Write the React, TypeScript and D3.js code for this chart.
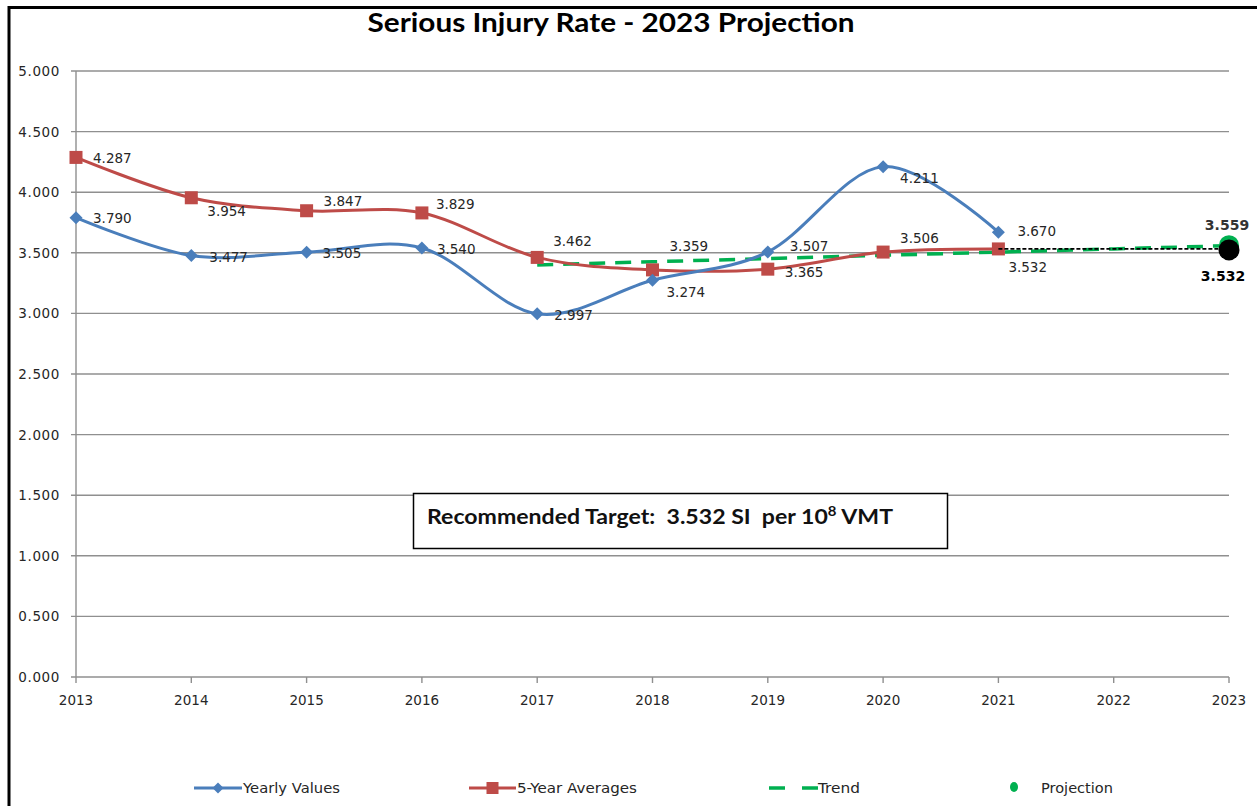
import React from "react";
import * as d3 from "d3";

const years = [2013, 2014, 2015, 2016, 2017, 2018, 2019, 2020, 2021];
const axisYears = [2013, 2014, 2015, 2016, 2017, 2018, 2019, 2020, 2021, 2022, 2023];
const yearlyValues = [3.79, 3.477, 3.505, 3.54, 2.997, 3.274, 3.507, 4.211, 3.67];
const fiveYearAverages = [4.287, 3.954, 3.847, 3.829, 3.462, 3.359, 3.365, 3.506, 3.532];
const trendYears = [2017, 2018, 2019, 2020, 2021, 2022, 2023];
const trendValues = [3.4, 3.426, 3.453, 3.479, 3.506, 3.532, 3.559];
const targetYears = [2021, 2023];
const targetValues = [3.532, 3.532];
const projectionYear = 2023;
const projectionValue = 3.559;
const targetValue = 3.532;
const yTicks = [0, 0.5, 1, 1.5, 2, 2.5, 3, 3.5, 4, 4.5, 5];

const legendItems = ["Yearly Values", "5-Year Averages", "Trend", "Projection"];

// label placement offsets (px) relative to each point
const blueLabelOffsets: [number, number][] = [
  [17, 0], [18, 1], [16, 1], [15, 1], [17, 1], [14, 12], [22, -6], [17, 11], [19, -1],
];
const redLabelOffsets: [number, number][] = [
  [17, 1], [16, 13], [17, -10], [14, -9], [16, -16], [17, -24], [17, 3], [17, -14], [10, 18],
];

const BLUE = "#4a7ebb";
const RED = "#be4b48";
const GREEN = "#00b050";
const GRID = "#8f8f8f";
const TXT = "#262626";

export default function App() {
  const W = 1257;
  const H = 806;
  const x = d3.scaleLinear().domain([2013, 2023]).range([76, 1229]);
  const y = d3.scaleLinear().domain([0, 5]).range([677, 71]);

  const smooth = d3
    .line<[number, number]>()
    .x((d) => x(d[0]))
    .y((d) => y(d[1]))
    .curve(d3.curveCardinal.tension(0));
  const straight = d3
    .line<[number, number]>()
    .x((d) => x(d[0]))
    .y((d) => y(d[1]));

  const bluePts = years.map((yr, i) => [yr, yearlyValues[i]] as [number, number]);
  const redPts = years.map((yr, i) => [yr, fiveYearAverages[i]] as [number, number]);
  const trendPts = trendYears.map((yr, i) => [yr, trendValues[i]] as [number, number]);
  const targetPts = targetYears.map((yr, i) => [yr, targetValues[i]] as [number, number]);

  const fmt = d3.format(".3f");
  const labelFont = { fontFamily: "DejaVu Sans", fontSize: 13.5, fill: TXT } as const;

  const diamond = (cx: number, cy: number, r: number) =>
    `M${cx},${cy - r}L${cx + r},${cy}L${cx},${cy + r}L${cx - r},${cy}Z`;

  return (
    <svg
      width={W}
      height={H}
      style={{ position: "absolute", left: 0, top: 0, background: "#fff" }}
    >
      <rect x={0} y={0} width={W} height={H} fill="#fff" />
      {/* frame */}
      <rect x={9} y={7.5} width={W + 20} height={H + 20} fill="none" stroke="#000" strokeWidth={3} />

      {/* title */}
      <text
        x={611}
        y={32}
        textAnchor="middle"
        fontFamily="Lato"
        fontWeight={700}
        fontSize={26}
        textLength={487}
        lengthAdjust="spacingAndGlyphs"
        fill="#000"
      >
        Serious Injury Rate - 2023 Projection
      </text>

      {/* gridlines */}
      {yTicks.map((t) => (
        <g key={t}>
          <line x1={71} x2={1229} y1={y(t)} y2={y(t)} stroke={GRID} strokeWidth={1.4} />
          <text
            x={60}
            y={y(t)}
            textAnchor="end"
            dominantBaseline="central"
            fontFamily="DejaVu Sans"
            fontSize={13.5}
            letterSpacing={0.6}
            fill={TXT}
          >
            {fmt(t)}
          </text>
        </g>
      ))}
      {/* y axis */}
      <line x1={76} x2={76} y1={71} y2={677} stroke={GRID} strokeWidth={1.4} />
      {/* x ticks */}
      {axisYears.map((yr) => (
        <g key={yr}>
          <line x1={x(yr)} x2={x(yr)} y1={677} y2={683} stroke={GRID} strokeWidth={1.4} />
          <text
            x={x(yr)}
            y={700}
            textAnchor="middle"
            dominantBaseline="central"
            fontFamily="DejaVu Sans"
            fontSize={13.5}
            fill={TXT}
          >
            {yr}
          </text>
        </g>
      ))}

      {/* trend */}
      <path d={straight(trendPts) || ""} fill="none" stroke={GREEN} strokeWidth={3.5} strokeDasharray="16,10" />

      {/* 5-year averages */}
      <path d={smooth(redPts) || ""} fill="none" stroke={RED} strokeWidth={3} />
      {redPts.map((p, i) => (
        <rect key={i} x={x(p[0]) - 6.5} y={y(p[1]) - 6.5} width={13} height={13} fill={RED} />
      ))}

      {/* yearly values */}
      <path d={smooth(bluePts) || ""} fill="none" stroke={BLUE} strokeWidth={3} />
      {bluePts.map((p, i) => (
        <path key={i} d={diamond(x(p[0]), y(p[1]), 6.5)} fill={BLUE} />
      ))}

      {/* target dotted */}
      <path d={straight(targetPts) || ""} fill="none" stroke="#000" strokeWidth={1.6} strokeDasharray="4,2" />

      {/* projection dot & target dot */}
      <circle cx={x(projectionYear)} cy={y(projectionValue) - 0.5} r={10} fill={GREEN} />
      <circle cx={x(projectionYear)} cy={y(targetValue) + 1} r={10.5} fill="#000" />

      {/* data labels */}
      {bluePts.map((p, i) => (
        <text
          key={"b" + i}
          x={x(p[0]) + blueLabelOffsets[i][0]}
          y={y(p[1]) + blueLabelOffsets[i][1]}
          dominantBaseline="central"
          {...labelFont}
        >
          {fmt(p[1])}
        </text>
      ))}
      {redPts.map((p, i) => (
        <text
          key={"r" + i}
          x={x(p[0]) + redLabelOffsets[i][0]}
          y={y(p[1]) + redLabelOffsets[i][1]}
          dominantBaseline="central"
          {...labelFont}
        >
          {fmt(p[1])}
        </text>
      ))}
      <text
        x={x(projectionYear) - 2}
        y={y(projectionValue) - 21}
        textAnchor="middle"
        dominantBaseline="central"
        fontFamily="DejaVu Sans"
        fontSize={14}
        fontWeight={700}
        fill="#333"
      >
        {fmt(projectionValue)}
      </text>
      <text
        x={x(projectionYear) - 6}
        y={y(targetValue) + 27}
        textAnchor="middle"
        dominantBaseline="central"
        fontFamily="DejaVu Sans"
        fontSize={14}
        fontWeight={700}
        fill="#000"
      >
        {fmt(targetValue)}
      </text>

      {/* text box */}
      <rect x={413.5} y={493.5} width={534} height={55} fill="#fff" stroke="#000" strokeWidth={1.5} />
      <text
        x={427}
        y={524}
        fontFamily="Lato"
        fontWeight={700}
        fontSize={20}
        fill="#111"
        textLength={466}
        lengthAdjust="spacingAndGlyphs"
      >
        <tspan>{`Recommended Target:\u00a0 ${fmt(targetValue)} SI\u00a0 per 10`}</tspan>
        <tspan fontSize={13} dy={-8}>8</tspan>
        <tspan dy={8}>{" VMT"}</tspan>
      </text>

      {/* legend */}
      <g>
        <line x1={194} x2={242} y1={788} y2={788} stroke={BLUE} strokeWidth={3} />
        <path d={diamond(218, 788, 5.5)} fill={BLUE} />
        <text x={243} y={788} dominantBaseline="central" fontFamily="DejaVu Sans" fontSize={14}
          textLength={97} lengthAdjust="spacingAndGlyphs" fill={TXT}>{legendItems[0]}</text>

        <line x1={469} x2={516} y1={788} y2={788} stroke={RED} strokeWidth={3} />
        <rect x={486.5} y={782} width={12} height={12} fill={RED} />
        <text x={517} y={788} dominantBaseline="central" fontFamily="DejaVu Sans" fontSize={14}
          textLength={120} lengthAdjust="spacingAndGlyphs" fill={TXT}>{legendItems[1]}</text>

        <line x1={769} x2={818} y1={788} y2={788} stroke={GREEN} strokeWidth={3.5} strokeDasharray="16,17" />
        <text x={818} y={788} dominantBaseline="central" fontFamily="DejaVu Sans" fontSize={14}
          textLength={42} lengthAdjust="spacingAndGlyphs" fill={TXT}>{legendItems[2]}</text>

        <ellipse cx={1014} cy={787} rx={4} ry={5} fill={GREEN} />
        <text x={1041} y={788} dominantBaseline="central" fontFamily="DejaVu Sans" fontSize={14}
          textLength={72} lengthAdjust="spacingAndGlyphs" fill={TXT}>{legendItems[3]}</text>
      </g>
    </svg>
  );
}
